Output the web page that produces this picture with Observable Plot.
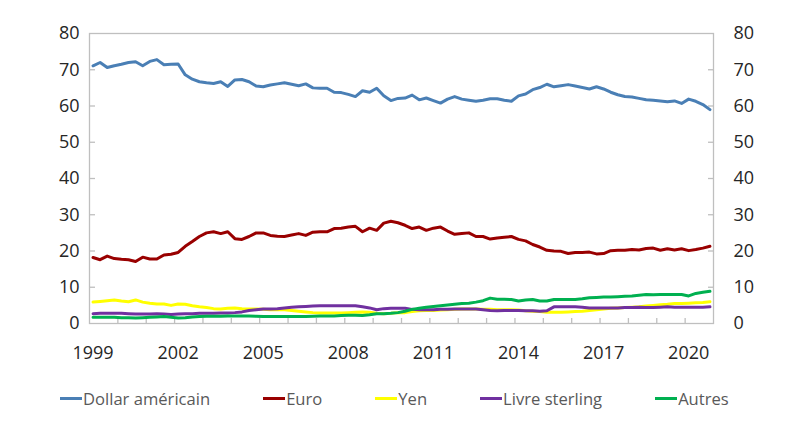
<!DOCTYPE html>
<html>
<head>
<meta charset="utf-8">
<script src="https://cdn.jsdelivr.net/npm/d3@7"></script>
<script src="https://cdn.jsdelivr.net/npm/@observablehq/plot@0.6"></script>
<style>
  html, body { margin: 0; padding: 0; background: #fff; }
  #chart { width: 802px; }
  .legend { display: flex; align-items: center; gap: 53px; padding-left: 60px; height: 40px; margin-top: 6px;
    font-family: "Open Sans", sans-serif; font-size: 16.6px; color: #595959; }
  .legend .item { display: flex; align-items: center; }
  .legend .sw { width: 22px; height: 3px; margin-right: 1px; }
</style>
</head>
<body>
<div id="chart"></div>
<script>
// Quarterly data, 1999Q1 .. 2020Q4 (share of reserves, %)
const startYear = 1999;
const usd = [71.1,72.0,70.6,71.1,71.5,72.0,72.2,71.1,72.3,72.8,71.4,71.5,
  71.6,68.6,67.4,66.7,66.4,66.2,66.7,65.4,67.2,67.3,66.7,65.5,
  65.3,65.8,66.1,66.4,66.0,65.6,66.1,65.0,64.9,64.9,63.8,63.7,
  63.2,62.6,64.2,63.8,64.9,62.8,61.5,62.1,62.2,63.0,61.7,62.2,
  61.5,60.8,61.9,62.6,61.9,61.6,61.3,61.6,62.0,62.0,61.6,61.3,
  62.8,63.3,64.5,65.1,66.0,65.3,65.6,65.9,65.5,65.1,64.7,65.3,
  64.7,63.8,63.1,62.6,62.5,62.1,61.7,61.6,61.4,61.2,61.4,60.7,
  61.9,61.3,60.4,59.0];
const eur = [18.2,17.6,18.6,17.9,17.7,17.6,17.1,18.3,17.8,17.8,18.9,19.1,
  19.6,21.3,22.6,24.0,25.0,25.3,24.8,25.3,23.4,23.2,24.0,25.0,
  25.0,24.3,24.1,24.0,24.4,24.8,24.3,25.2,25.3,25.3,26.2,26.3,
  26.6,26.8,25.3,26.3,25.7,27.7,28.2,27.8,27.1,26.2,26.6,25.7,
  26.3,26.6,25.5,24.6,24.8,25.0,24.0,24.0,23.3,23.6,23.8,24.0,
  23.2,22.8,21.8,21.1,20.2,20.0,19.9,19.3,19.6,19.6,19.7,19.2,
  19.3,20.1,20.2,20.2,20.4,20.3,20.7,20.8,20.2,20.6,20.3,20.6,
  20.1,20.4,20.8,21.3];
const jpy = [5.9,6.1,6.3,6.5,6.2,6.0,6.5,5.9,5.6,5.4,5.4,5.0,
  5.4,5.3,4.9,4.6,4.4,4.1,4.0,4.2,4.3,4.1,4.0,4.0,
  3.9,3.8,3.8,3.8,3.6,3.4,3.2,3.0,2.9,2.9,2.9,2.9,
  3.0,3.1,3.2,3.1,2.8,2.7,2.8,3.0,3.0,3.3,3.5,3.6,
  3.6,3.7,3.8,3.9,4.0,4.0,4.0,3.9,3.9,3.8,3.8,3.8,
  3.7,3.5,3.4,3.3,3.1,3.1,3.1,3.2,3.3,3.4,3.6,3.8,
  4.0,4.2,4.3,4.4,4.5,4.6,4.8,5.0,5.2,5.3,5.5,5.5,
  5.6,5.7,5.8,6.0];
const gbp = [2.7,2.8,2.8,2.8,2.8,2.7,2.6,2.6,2.6,2.7,2.6,2.5,
  2.6,2.7,2.7,2.8,2.8,2.8,2.9,2.9,3.0,3.2,3.6,3.8,
  4.0,4.0,4.1,4.3,4.5,4.6,4.7,4.8,4.9,4.9,4.9,4.9,
  4.9,4.9,4.6,4.3,3.8,4.1,4.2,4.2,4.2,3.9,3.8,3.8,
  3.8,3.9,3.9,4.0,4.0,4.0,4.0,3.8,3.6,3.5,3.6,3.6,
  3.6,3.5,3.5,3.4,3.5,4.6,4.6,4.6,4.6,4.5,4.3,4.3,
  4.3,4.3,4.3,4.4,4.4,4.5,4.4,4.4,4.5,4.6,4.5,4.5,
  4.5,4.5,4.5,4.6];
const oth = [1.7,1.7,1.7,1.7,1.6,1.6,1.5,1.6,1.7,1.8,1.9,1.7,
  1.5,1.6,1.8,1.9,2.0,2.0,2.0,2.1,2.1,2.1,2.1,2.0,
  1.9,1.9,1.9,1.9,1.9,1.9,1.9,2.0,2.1,2.1,2.1,2.2,
  2.3,2.3,2.2,2.4,2.7,2.7,2.8,3.0,3.4,3.9,4.2,4.5,
  4.7,4.9,5.1,5.3,5.5,5.6,5.9,6.3,7.0,6.7,6.7,6.6,
  6.2,6.5,6.6,6.2,6.2,6.6,6.6,6.6,6.6,6.8,7.1,7.2,
  7.3,7.3,7.4,7.5,7.6,7.8,8.0,7.9,8.0,8.0,8.0,8.0,
  7.6,8.3,8.6,8.9];

const seriesNames = ["Dollar américain", "Euro", "Yen", "Livre sterling", "Autres"];
const seriesColors = ["#4a7fb5", "#990000", "#ffff00", "#7030a0", "#00b050"];
const seriesValues = [usd, eur, jpy, gbp, oth];

const yTickValues = [0, 10, 20, 30, 40, 50, 60, 70, 80];
const yInnerTicks = [10, 20, 30, 40, 50, 60, 70];
const xLabelYears = [1999, 2002, 2005, 2008, 2011, 2014, 2017, 2020];
const xTickYears = d3.range(2000, 2021);

const rows = [];
seriesNames.forEach((name, s) => {
  seriesValues[s].forEach((v, i) => {
    rows.push({series: name, t: startYear + i / 4 + 0.125, value: v});
  });
});

const gray = "#bfbfbf";
const txt = "#262626";

const plot = Plot.plot({
  width: 802,
  height: 372,
  marginTop: 33,
  marginBottom: 49,
  marginLeft: 89,
  marginRight: 89,
  style: {fontFamily: "Open Sans, sans-serif", fontSize: "18px", color: txt, background: "#fff"},
  x: {type: "linear", domain: [1999, 2021], axis: null, label: null},
  y: {domain: [0, 80], axis: null, label: null},
  color: {domain: seriesNames, range: seriesColors},
  marks: [
    Plot.frame({stroke: gray, strokeWidth: 1.3}),
    Plot.axisY(yInnerTicks, {anchor: "left", label: null, tickSize: 6, dx: 6, tickFormat: () => "", stroke: gray, strokeWidth: 1.3}),
    Plot.axisY(yInnerTicks, {anchor: "right", label: null, tickSize: 6, dx: -6, tickFormat: () => "", stroke: gray, strokeWidth: 1.3}),
    Plot.axisX(xTickYears, {anchor: "bottom", label: null, tickSize: 5, dy: -5, tickFormat: () => "", stroke: gray, strokeWidth: 1.3}),
    Plot.axisY(yTickValues, {anchor: "left", label: null, tickSize: 0, tickPadding: 10, fontSize: 18, fill: txt}),
    Plot.axisY(yTickValues, {anchor: "right", label: null, tickSize: 0, tickPadding: 20, fontSize: 18, fill: txt}),
    Plot.axisX(xLabelYears.map(y => y + 0.125), {anchor: "bottom", label: null, tickSize: 0, tickPadding: 23, fontSize: 18, fill: txt, tickFormat: d => String(Math.floor(d))}),
    Plot.line(rows, {x: "t", y: "value", z: "series", stroke: "series", strokeWidth: 3, curve: "linear"})
  ]
});
document.getElementById("chart").appendChild(plot);

const legend = document.createElement("div");
legend.className = "legend";
seriesNames.forEach((name, i) => {
  const item = document.createElement("div");
  item.className = "item";
  const sw = document.createElement("span");
  sw.className = "sw";
  sw.style.background = seriesColors[i];
  const label = document.createElement("span");
  label.textContent = name;
  item.appendChild(sw);
  item.appendChild(label);
  legend.appendChild(item);
});
document.getElementById("chart").appendChild(legend);
</script>
</body>
</html>
